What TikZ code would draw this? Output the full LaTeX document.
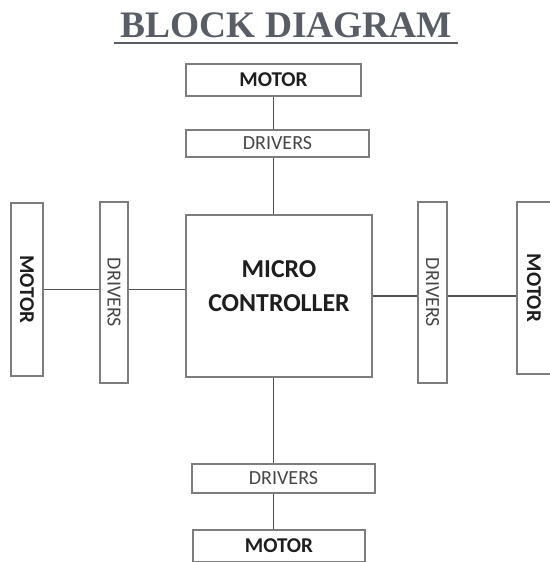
\documentclass[tikz,border=0pt]{standalone}
\usepackage{fontspec}
\setmainfont{Carlito}
\newfontfamily\titlefont{Liberation Serif}
\usepackage{tikz}
\usetikzlibrary{positioning}
\definecolor{boxgray}{RGB}{125,125,125}
\definecolor{wiregray}{RGB}{80,80,80}
\definecolor{titlegray}{RGB}{88,93,102}
\definecolor{txtdark}{RGB}{30,30,30}
\definecolor{txtgray}{RGB}{70,70,70}
\tikzset{
  block/.style={rectangle, draw=boxgray, fill=white, inner sep=0pt, line width=0.8pt},
  wire/.style={line width=1pt, color=wiregray}
}

\begin{document}
\begin{tikzpicture}[x=0.02cm, y=-0.02cm,
  motor/.style={block, font=\fontsize{12}{14}\selectfont\bfseries, text=txtdark},
  drv/.style={block, font=\fontsize{11.4}{13}\selectfont, text=txtgray},
  mcu/.style={block, minimum width=3.72cm, minimum height=3.24cm, font=\fontsize{14.7}{19.4}\selectfont\bfseries, text=txtdark}
]
\useasboundingbox (0,0) rectangle (549,562);

% title with underline
\node[font=\titlefont\fontsize{21.3}{24}\selectfont\bfseries, text=titlegray, inner sep=0pt, anchor=base] (title) at (286.5,37) {BLOCK DIAGRAM};
\draw[titlegray, line width=1.6pt, shorten <=-0.12cm, shorten >=-0.1cm]
  ([yshift=-0.12cm]title.base west) -- ([yshift=-0.12cm]title.base east);

\node[motor, minimum width=3.5cm,  minimum height=0.64cm] (mTop)   at (273.5,80)    {MOTOR};
\node[drv,   minimum width=3.66cm, minimum height=0.54cm] (dTop)   at (277.5,143.5) {DRIVERS};
\node[mcu]                                                (mc)     at (279,296)
  {\raisebox{0.17cm}[\height][\depth]{\begin{tabular}{@{}c@{}}MICRO\\CONTROLLER\end{tabular}}};
\node[motor, minimum width=0.64cm, minimum height=3.46cm] (lMotor) at (27,289.5)    {\rotatebox{-90}{MOTOR}};
\node[drv,   minimum width=0.56cm, minimum height=3.62cm] (lDrv)   at (114,292.5)   {\rotatebox{-90}{DRIVERS}};
\node[drv,   minimum width=0.58cm, minimum height=3.62cm] (rDrv)   at (432.5,292.5) {\rotatebox{-90}{DRIVERS}};
\node[motor, minimum width=0.68cm, minimum height=3.44cm] (rMotor) at (534,288)     {\rotatebox{-90}{MOTOR}};
\node[drv,   minimum width=3.66cm, minimum height=0.58cm] (dBot)   at (283.5,478.5) {DRIVERS};
\node[motor, minimum width=3.44cm, minimum height=0.64cm] (mBot)   at (279,546)     {MOTOR};

% vertical links
\draw[wire] (mTop.south) -- (mTop.south |- dTop.north);
\draw[wire] (mTop.south |- dTop.south) -- (mTop.south |- mc.north);
\draw[wire] (mTop.south |- mc.south) -- (mTop.south |- dBot.north);
\draw[wire] (mTop.south |- dBot.south) -- (mTop.south |- mBot.north);

% horizontal links
\draw[wire] (lMotor.east) -- (lMotor.east -| lDrv.west);
\draw[wire] (lMotor.east -| lDrv.east) -- (lMotor.east -| mc.west);
\draw[wire] (mc.east) -- (mc.east -| rDrv.west);
\draw[wire] (mc.east -| rDrv.east) -- (mc.east -| rMotor.west);
\end{tikzpicture}
\end{document}
